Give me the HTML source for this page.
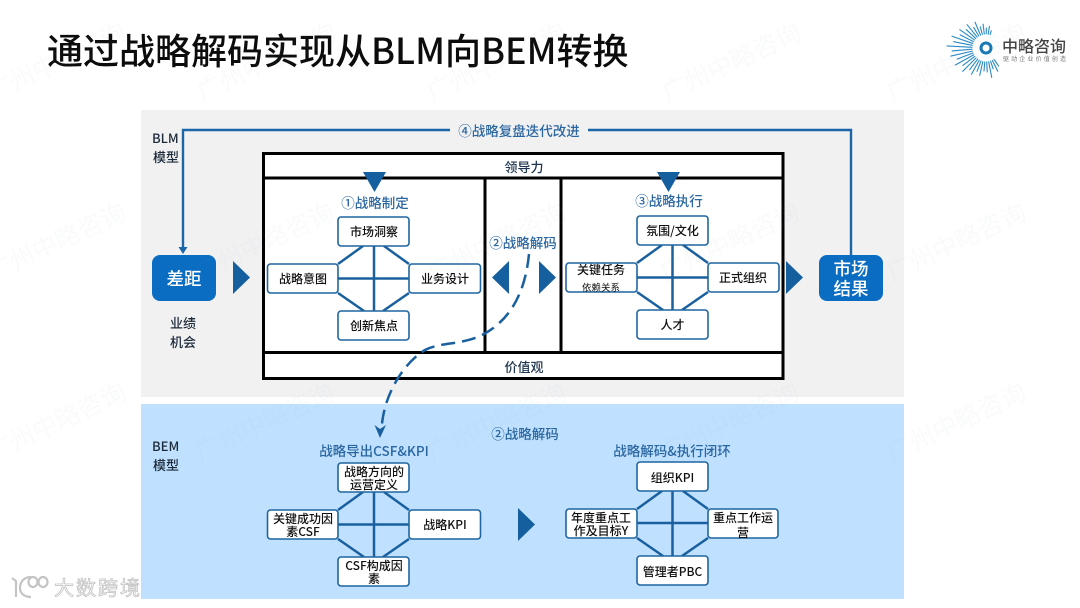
<!DOCTYPE html>
<html lang="zh"><head><meta charset="utf-8"><title>通过战略解码实现从BLM向BEM转换</title>
<style>
html,body{margin:0;padding:0;background:#fff;width:1080px;height:608px;overflow:hidden}
svg{display:block;overflow:hidden}
text{font-family:"Noto Sans CJK SC","Liberation Sans",sans-serif}
.b{fill:#fff;stroke:#1f659f;stroke-width:1.6}
.l{stroke:#1a609f;stroke-width:2.5;fill:none}
.t{font-size:12px;fill:#111;text-anchor:middle;font-weight:500}
.h{font-size:13.5px;fill:#2a66a0;text-anchor:middle;font-weight:500}
.k{font-size:13px;fill:#1d3550;text-anchor:middle;font-weight:500}
.tri{fill:#155f9f}
.wm{font-size:25px;fill:#8a9ab0;opacity:.04;text-anchor:middle}
.m{font-size:13px;font-weight:500;fill:#1d2a3a}
</style></head><body>
<svg width="1080" height="608" viewBox="0 0 1080 608" xmlns="http://www.w3.org/2000/svg">
<defs><clipPath id="c"><rect width="1080" height="608"/></clipPath></defs>
<rect width="1080" height="608" fill="#fff"/>
<rect x="141" y="110" width="763" height="287" fill="#f1f1f2"/>
<rect x="141" y="404" width="763" height="195" fill="#bfe1ff"/>

<text x="47" y="64" font-size="36" font-weight="500" fill="#0c0c0c">通过战略解码实现从BLM向BEM转换</text>

<!-- frame -->
<rect x="263.5" y="153.5" width="519.5" height="225" fill="#fff" stroke="#000" stroke-width="3"/>
<path d="M263 178H783M263 352.5H783M485 178V352.5M561 178V352.5" stroke="#000" stroke-width="3" fill="none"/>
<text x="524" y="172" class="k">领导力</text>
<text x="524" y="372" class="k">价值观</text>

<!-- feedback loop -->
<path d="M851 258V130H588M450 130H183V249" fill="none" stroke="#1a66a6" stroke-width="2.4"/>
<path d="M178.500 247L187.500 247L183 254Z" fill="#1a66a6"/>
<text x="519" y="136" class="h">④战略复盘迭代改进</text>

<text x="152" y="143" class="m">BLM</text>
<text x="153" y="162" class="m">模型</text>
<text x="152" y="451" class="m">BEM</text>
<text x="153" y="470" class="m">模型</text>

<!-- side boxes -->
<rect x="152" y="255" width="64" height="46" rx="8" fill="#0a6dc2"/>
<text x="184" y="285" font-size="17.500" fill="#fff" text-anchor="middle" font-weight="500">差距</text>
<rect x="819" y="255" width="64" height="46" rx="8" fill="#0a6dc2"/>
<text x="851" y="275" font-size="17.500" fill="#fff" text-anchor="middle" font-weight="500">市场</text>
<text x="851" y="295" font-size="17.500" fill="#fff" text-anchor="middle" font-weight="500">结果</text>
<text x="183" y="328" class="m" text-anchor="middle">业绩</text>
<text x="183" y="347" class="m" text-anchor="middle">机会</text>

<!-- triangles -->
<path class="tri" d="M233 261L250 277.5L233 294Z"/>
<path class="tri" d="M786 261L803 277.5L786 294Z"/>
<path class="tri" d="M509 261L492 277.5L509 294Z"/>
<path class="tri" d="M539 261L556 277.5L539 294Z"/>
<path class="tri" d="M518 508L535 524.5L518 541Z"/>
<path class="tri" d="M363 172H386L374.5 192Z"/>
<path class="tri" d="M657 172H680L668.5 192Z"/>

<text x="375" y="208" class="h">①战略制定</text>
<text x="523" y="248" class="h">②战略解码</text>
<text x="669" y="206" class="h">③战略执行</text>
<text x="525" y="439" class="h">②战略解码</text>
<text x="374" y="456" class="h">战略导出CSF&amp;KPI</text>
<text x="672" y="456" class="h">战略解码&amp;执行闭环</text>

<!-- diamond 1 -->
<path class="l" d="M374 246V311M338 278.5H409M338 264L363 246M409 264L384 246M338 293L364 311M409 293L383 311"/>
<rect class="b" x="338" y="217" width="71" height="29" rx="3"/>
<rect class="b" x="267.5" y="264" width="70.5" height="29" rx="3"/>
<rect class="b" x="409" y="264" width="71.5" height="29" rx="3"/>
<rect class="b" x="338" y="311" width="71" height="29" rx="3"/>
<text x="374" y="236" class="t">市场洞察</text>
<text x="303" y="283" class="t">战略意图</text>
<text x="445" y="283" class="t">业务设计</text>
<text x="374" y="330" class="t">创新焦点</text>

<!-- diamond 2 -->
<path class="l" d="M672.5 245V310M637 277.5H708M637 263L662 245M708 263L683 245M637 292L663 310M708 292L682 310"/>
<rect class="b" x="637" y="216" width="71" height="29" rx="3"/>
<rect class="b" x="566" y="263" width="71" height="29" rx="3"/>
<rect class="b" x="708" y="263" width="71" height="29" rx="3"/>
<rect class="b" x="637" y="310" width="71" height="29" rx="3"/>
<text x="672.5" y="235" class="t">氛围/文化</text>
<text x="601" y="274" class="t">关键任务</text>
<text x="601" y="291" font-size="9.5" fill="#111" text-anchor="middle">依赖关系</text>
<text x="743" y="282" class="t">正式组织</text>
<text x="672.5" y="329" class="t">人才</text>

<!-- diamond 3 -->
<path class="l" d="M374 492V557M338 524.5H409M338 510L363 492M409 510L384 492M338 539L364 557M409 539L383 557"/>
<rect class="b" x="338" y="463" width="71" height="29" rx="3"/>
<rect class="b" x="267.5" y="510" width="70.5" height="29" rx="3"/>
<rect class="b" x="409" y="510" width="71.5" height="29" rx="3"/>
<rect class="b" x="338" y="557" width="71" height="29" rx="3"/>
<text x="374" y="476" class="t">战略方向的</text>
<text x="374" y="489" class="t">运营定义</text>
<text x="303" y="523" class="t">关键成功因</text>
<text x="303" y="536" class="t">素CSF</text>
<text x="445" y="529" class="t">战略KPI</text>
<text x="374" y="570" class="t">CSF构成因</text>
<text x="374" y="583" class="t">素</text>

<!-- diamond 4 -->
<path class="l" d="M672.5 491V556M637 523H708M637 509L662 491M708 509L683 491M637 538L663 556M708 538L682 556"/>
<rect class="b" x="637" y="462" width="71" height="29" rx="3"/>
<rect class="b" x="566" y="509" width="71" height="29" rx="3"/>
<rect class="b" x="708" y="509" width="70" height="29" rx="3"/>
<rect class="b" x="637" y="556" width="71" height="29" rx="3"/>
<text x="672.5" y="482" class="t">组织KPI</text>
<text x="601" y="522" class="t">年度重点工</text>
<text x="601" y="535" class="t">作及目标Y</text>
<text x="743" y="522" class="t">重点工作运</text>
<text x="743" y="537" class="t">营</text>
<text x="672.5" y="576" class="t">管理者PBC</text>

<!-- dashed curve -->
<path d="M529 254C526 285 515 318 482 335C462 345 440 342 425 350C405 362 385 392 382 424" fill="none" stroke="#1a609f" stroke-width="2.5" stroke-dasharray="14 7"/>
<path d="M374.500 425L380 429L386 425L380 438Z" fill="#1a609f"/>

<!-- watermarks -->
<g clip-path="url(#c)">
<text class="wm" transform="translate(60 70) rotate(-25)">广州中略咨询</text>
<text class="wm" transform="translate(270 70) rotate(-25)">广州中略咨询</text>
<text class="wm" transform="translate(500 70) rotate(-25)">广州中略咨询</text>
<text class="wm" transform="translate(735 70) rotate(-25)">广州中略咨询</text>
<text class="wm" transform="translate(960 70) rotate(-25)">广州中略咨询</text>
<text class="wm" transform="translate(60 250) rotate(-25)">广州中略咨询</text>
<text class="wm" transform="translate(268 250) rotate(-25)">广州中略咨询</text>
<text class="wm" transform="translate(500 250) rotate(-25)">广州中略咨询</text>
<text class="wm" transform="translate(733 250) rotate(-25)">广州中略咨询</text>
<text class="wm" transform="translate(960 250) rotate(-25)">广州中略咨询</text>
<text class="wm" transform="translate(60 430) rotate(-25)">广州中略咨询</text>
<text class="wm" transform="translate(268 430) rotate(-25)">广州中略咨询</text>
<text class="wm" transform="translate(500 430) rotate(-25)">广州中略咨询</text>
<text class="wm" transform="translate(733 430) rotate(-25)">广州中略咨询</text>
<text class="wm" transform="translate(960 430) rotate(-25)">广州中略咨询</text>
</g>

<!-- logo -->
<g transform="translate(986 48)" stroke="#2a8ac4" stroke-width="1.1" stroke-linecap="round">
<line x1="-14" x2="-22" transform="rotate(-125)"/><line x1="-14" x2="-26" transform="rotate(-117)"/>
<line x1="-14" x2="-22" transform="rotate(-109)"/><line x1="-14" x2="-30" transform="rotate(-101)"/>
<line x1="-14" x2="-24" transform="rotate(-93)"/><line x1="-14" x2="-23" transform="rotate(-85)"/>
<line x1="-14" x2="-28" transform="rotate(-77)"/><line x1="-14" x2="-25" transform="rotate(-69)"/>
<line x1="-14" x2="-30" transform="rotate(-61)"/><line x1="-14" x2="-27" transform="rotate(-53)"/>
<line x1="-14" x2="-33" transform="rotate(-45)"/><line x1="-14" x2="-29" transform="rotate(-37)"/>
<line x1="-14" x2="-35" transform="rotate(-29)"/><line x1="-14" x2="-31" transform="rotate(-21)"/>
<line x1="-14" x2="-36" transform="rotate(-13)"/><line x1="-14" x2="-34" transform="rotate(-5)"/>
<line x1="-14" x2="-39" transform="rotate(3)"/><line x1="-14" x2="-33" transform="rotate(11)"/>
<line x1="-14" x2="-36" transform="rotate(19)"/><line x1="-14" x2="-29" transform="rotate(27)"/>
<line x1="-14" x2="-32" transform="rotate(35)"/><line x1="-14" x2="-27" transform="rotate(43)"/>
<line x1="-14" x2="-30" transform="rotate(51)"/><line x1="-14" x2="-24" transform="rotate(59)"/>
<line x1="-14" x2="-28" transform="rotate(67)"/><line x1="-14" x2="-22" transform="rotate(75)"/>
<line x1="-14" x2="-24" transform="rotate(83)"/><line x1="-14" x2="-20" transform="rotate(91)"/>
<line x1="-14" x2="-22" transform="rotate(99)"/><line x1="-14" x2="-18" transform="rotate(107)"/>
</g>
<circle cx="986" cy="48" r="5" fill="#fff" stroke="#1878b8" stroke-width="3"/>
<text x="1002" y="52" font-size="16" fill="#444" font-weight="500">中略咨询</text>
<text x="1003" y="61" font-size="6" fill="#777" textLength="63">驱动企业价值创造</text>

<!-- bottom-left mark -->
<g fill="none" stroke="#c4c4c4" stroke-width="2.2">
<path d="M12 578L16 581V597"/>
<path d="M31 577C23 577 20 583 20 588C20 594 25 597 31 597"/>
<ellipse cx="33" cy="582" rx="4.5" ry="5"/>
<ellipse cx="43" cy="582" rx="4.5" ry="5"/>
</g>
<text x="54" y="595" font-size="20" fill="#fff" stroke="#bcbcbc" stroke-width=".7" textLength="86">大数跨境</text>
</svg>
</body></html>
